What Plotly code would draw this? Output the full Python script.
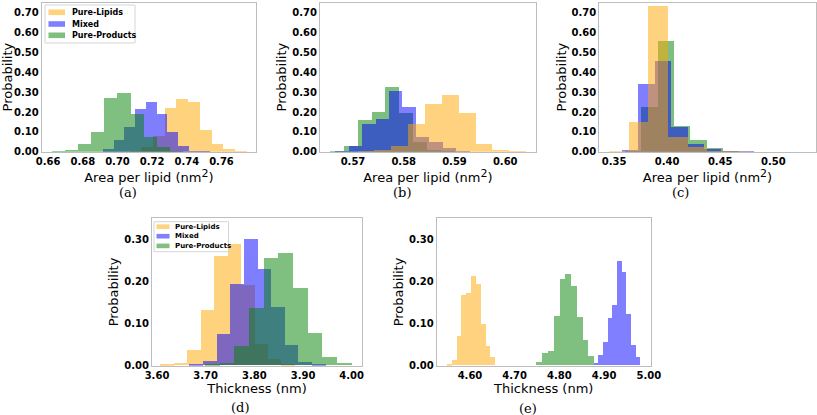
import numpy as np
import plotly.graph_objects as go

SERIES = ["Pure-Lipids", "Mixed", "Pure-Products"]
COLORS = {"Pure-Lipids": "orange", "Mixed": "blue", "Pure-Products": "green"}

# ---- (a) area per lipid: histogram range (min, max) and bin probabilities (10 bins)
A_LIPIDS_RANGE = (0.7069, 0.7743)
A_LIPIDS_PROB = [0.008, 0.028, 0.084, 0.224, 0.269, 0.252, 0.114, 0.039, 0.014, 0.002]
A_MIXED_RANGE = (0.6914, 0.7534)
A_MIXED_PROB = [0.015, 0.059, 0.129, 0.218, 0.255, 0.193, 0.100, 0.032, 0.008, 0.003]
A_PRODUCTS_RANGE = (0.6618, 0.7378)
A_PRODUCTS_PROB = [0.007, 0.013, 0.042, 0.104, 0.274, 0.300, 0.193, 0.075, 0.025, 0.006]

# ---- (b) area per lipid
B_LIPIDS_RANGE = (0.5709, 0.6041)
B_LIPIDS_PROB = [0.002, 0.012, 0.032, 0.143, 0.245, 0.289, 0.200, 0.040, 0.010, 0.002]
B_MIXED_RANGE = (0.5665, 0.5930)
B_MIXED_PROB = [0.005, 0.030, 0.143, 0.165, 0.307, 0.230, 0.075, 0.050, 0.020, 0.005]
B_PRODUCTS_RANGE = (0.5654, 0.5929)
B_PRODUCTS_PROB = [0.005, 0.030, 0.163, 0.205, 0.331, 0.200, 0.050, 0.012, 0.003, 0.001]

# ---- (c) area per lipid
C_LIPIDS_RANGE = (0.3454, 0.5306)
C_LIPIDS_PROB = [0.003, 0.151, 0.739, 0.079, 0.025, 0.005, 0.002, 0.001, 0.0, 0.0]
C_MIXED_RANGE = (0.3575, 0.5129)
C_MIXED_PROB = [0.010, 0.345, 0.462, 0.129, 0.040, 0.018, 0.005, 0.002, 0.0, 0.0]
C_PRODUCTS_RANGE = (0.3607, 0.5142)
C_PRODUCTS_PROB = [0.005, 0.227, 0.558, 0.134, 0.062, 0.020, 0.005, 0.001, 0.0, 0.0]

# ---- (d) thickness
D_LIPIDS_RANGE = (3.6062, 3.8835)
D_LIPIDS_PROB = [0.002, 0.006, 0.037, 0.132, 0.260, 0.289, 0.190, 0.050, 0.015, 0.004]
D_MIXED_RANGE = (3.6664, 3.9466)
D_MIXED_PROB = [0.004, 0.011, 0.075, 0.193, 0.299, 0.229, 0.139, 0.049, 0.007, 0.003]
D_PRODUCTS_RANGE = (3.6986, 4.0000)
D_PRODUCTS_PROB = [0.002, 0.006, 0.045, 0.136, 0.255, 0.267, 0.184, 0.077, 0.020, 0.005]

# ---- (e) thickness
E_LIPIDS_RANGE = (4.5478, 4.6559)
E_LIPIDS_PROB = [0.002, 0.014, 0.071, 0.166, 0.172, 0.213, 0.193, 0.099, 0.045, 0.020]
E_MIXED_RANGE = (4.8759, 4.9803)
E_MIXED_PROB = [0.006, 0.025, 0.055, 0.113, 0.144, 0.247, 0.221, 0.122, 0.048, 0.021]
E_PRODUCTS_RANGE = (4.7477, 4.8774)
E_PRODUCTS_PROB = [0.008, 0.029, 0.035, 0.118, 0.205, 0.218, 0.188, 0.114, 0.061, 0.023]

# axis tick labels
TOP_YTICKS = [0.0, 0.1, 0.2, 0.3, 0.4, 0.5, 0.6, 0.7]
BOTTOM_YTICKS = [0.0, 0.1, 0.2, 0.3]
A_XTICKS = [0.66, 0.68, 0.70, 0.72, 0.74, 0.76]
B_XTICKS = [0.57, 0.58, 0.59, 0.60]
C_XTICKS = [0.35, 0.40, 0.45, 0.50]
D_XTICKS = [3.60, 3.70, 3.80, 3.90, 4.00]
E_XTICKS = [4.60, 4.70, 4.80, 4.90, 5.00]
PANEL_LABELS = ["(a)", "(b)", "(c)", "(d)", "(e)"]

W, H = 817, 415

fig = go.Figure()


def add_hist(rng, probs, name, xa, ya):
    edges = np.linspace(rng[0], rng[1], len(probs) + 1)
    centers = (edges[:-1] + edges[1:]) / 2
    width = edges[1] - edges[0]
    fig.add_trace(go.Bar(
        x=centers, y=probs, width=width, name=name,
        marker=dict(color=COLORS[name], line=dict(width=0)),
        opacity=0.5, xaxis=xa, yaxis=ya, showlegend=False,
    ))


# (a): lipids, mixed, products
add_hist(A_LIPIDS_RANGE, A_LIPIDS_PROB, "Pure-Lipids", "x", "y")
add_hist(A_MIXED_RANGE, A_MIXED_PROB, "Mixed", "x", "y")
add_hist(A_PRODUCTS_RANGE, A_PRODUCTS_PROB, "Pure-Products", "x", "y")
# (b): products, mixed, lipids
add_hist(B_PRODUCTS_RANGE, B_PRODUCTS_PROB, "Pure-Products", "x2", "y2")
add_hist(B_MIXED_RANGE, B_MIXED_PROB, "Mixed", "x2", "y2")
add_hist(B_LIPIDS_RANGE, B_LIPIDS_PROB, "Pure-Lipids", "x2", "y2")
# (c): products, mixed, lipids
add_hist(C_PRODUCTS_RANGE, C_PRODUCTS_PROB, "Pure-Products", "x3", "y3")
add_hist(C_MIXED_RANGE, C_MIXED_PROB, "Mixed", "x3", "y3")
add_hist(C_LIPIDS_RANGE, C_LIPIDS_PROB, "Pure-Lipids", "x3", "y3")
# (d)
add_hist(D_LIPIDS_RANGE, D_LIPIDS_PROB, "Pure-Lipids", "x4", "y4")
add_hist(D_MIXED_RANGE, D_MIXED_PROB, "Mixed", "x4", "y4")
add_hist(D_PRODUCTS_RANGE, D_PRODUCTS_PROB, "Pure-Products", "x4", "y4")
# (e)
add_hist(E_LIPIDS_RANGE, E_LIPIDS_PROB, "Pure-Lipids", "x5", "y5")
add_hist(E_PRODUCTS_RANGE, E_PRODUCTS_PROB, "Pure-Products", "x5", "y5")
add_hist(E_MIXED_RANGE, E_MIXED_PROB, "Mixed", "x5", "y5")

# frame boxes in pixels (left, right, top, bottom)
boxes = [
    (41.7, 256.0, 2.5, 151.7),
    (320.0, 535.7, 2.5, 151.7),
    (599.3, 815.7, 2.5, 151.7),
    (152.0, 362.0, 218.3, 365.7),
    (436.7, 650.7, 218.3, 365.7),
]
xranges = [[0.6563, 0.7799], [0.5635, 0.6060], [0.3361, 0.5399],
           [3.5897, 4.0212], [4.5255, 5.0043]]
xticks = [A_XTICKS, B_XTICKS, C_XTICKS, D_XTICKS, E_XTICKS]
yranges = [[0, 0.752]] * 3 + [[0, 0.35]] * 2
yticks = [TOP_YTICKS] * 3 + [BOTTOM_YTICKS] * 2
AREA_TITLE = "Area per lipid (nm<sup><span style='font-size:11px'>2</span></sup>)"
xtitles = [AREA_TITLE] * 3 + ["Thickness (nm)"] * 2

tickfont = dict(family="DejaVu Sans", size=10, color="black", weight="bold")
titlefont = dict(family="DejaVu Sans", size=13, color="black")
axis_common = dict(showline=True, mirror=True, linecolor="#bdbdbd", linewidth=1,
                   showgrid=False, zeroline=False, ticks="", automargin=False,
                   tickformat=".2f", tickfont=tickfont, fixedrange=True)

layout = {}
for i, (l, r, t, b) in enumerate(boxes):
    sfx = "" if i == 0 else str(i + 1)
    layout["xaxis" + sfx] = dict(
        domain=[l / W, r / W], range=xranges[i], tickvals=xticks[i],
        anchor="y" + sfx, title=dict(text=xtitles[i], font=titlefont, standoff=0),
        **axis_common)
    layout["yaxis" + sfx] = dict(
        domain=[1 - b / H, 1 - t / H], range=yranges[i], tickvals=yticks[i],
        anchor="x" + sfx, title=dict(text="Probability", font=titlefont, standoff=2),
        **axis_common)

label_pos = [(128, 193), (401.7, 193), (680, 193), (240, 407), (528.3, 408)]
annotations = [
    dict(text=lab, x=px / W, y=1 - py / H, xref="paper", yref="paper",
         showarrow=False, font=dict(family="DejaVu Serif", size=13, color="black"),
         xanchor="center", yanchor="middle")
    for lab, (px, py) in zip(PANEL_LABELS, label_pos)
]

# legends (drawn as boxes + patches + text, matching the compact matplotlib style)
shapes = []
legend_specs = [
    # box (x0, x1, y0, y1), patch x0, x1, patch half-height, text x, row ys, font size
    ((45, 135, 5, 43), 48.5, 65, 2.8, 70, [12.3, 24.0, 35.3], 8),
    ((154, 228.5, 221.7, 251.7), 156.5, 169.5, 2.3, 173.3, [226.7, 236.2, 245.9], 7),
]
for (bx0, bx1, by0, by1), px0, px1, hh, tx, rows, fs in legend_specs:
    shapes.append(dict(type="rect", xref="paper", yref="paper", layer="above",
                       x0=bx0 / W, x1=bx1 / W, y0=1 - by1 / H, y1=1 - by0 / H,
                       fillcolor="rgba(255,255,255,0.8)",
                       line=dict(color="#d5d5d5", width=1)))
    for name, ry in zip(SERIES, rows):
        shapes.append(dict(type="rect", xref="paper", yref="paper", layer="above",
                           x0=px0 / W, x1=px1 / W, y0=1 - (ry + hh) / H, y1=1 - (ry - hh) / H,
                           fillcolor=COLORS[name], opacity=0.5, line=dict(width=0)))
        annotations.append(dict(text=name, x=tx / W, y=1 - ry / H, xref="paper", yref="paper",
                                showarrow=False, xanchor="left", yanchor="middle",
                                font=dict(family="DejaVu Sans", size=fs, weight="bold",
                                          color="black")))

fig.update_layout(
    width=W, height=H, margin=dict(l=0, r=0, t=0, b=0),
    paper_bgcolor="white", plot_bgcolor="white",
    barmode="overlay", bargap=0, showlegend=False,
    annotations=annotations, shapes=shapes,
    **layout,
)

fig.write_html("out.html", config={"displayModeBar": False},
               post_script="document.body.style.margin='0px';")
